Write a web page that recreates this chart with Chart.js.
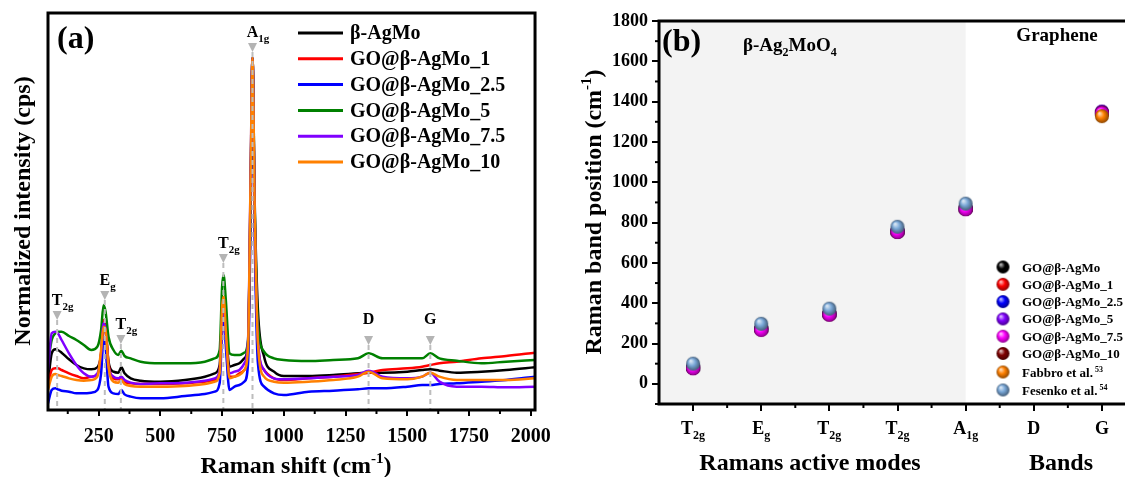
<!DOCTYPE html>
<html>
<head>
<meta charset="utf-8">
<script src="https://cdn.jsdelivr.net/npm/chart.js@4.4.0/dist/chart.umd.min.js"></script>
<style>
  html, body { margin: 0; padding: 0; background: #fff; overflow: hidden; }
  #wrap { position: relative; width: 1125px; height: 477px; overflow: hidden; }
  #boxA { position: absolute; left: 0; top: 0; }
  #boxB { position: absolute; left: 560px; top: 0; }
</style>
</head>
<body>
<div id="wrap">
  <div id="boxA"><canvas id="ramanChart" width="560" height="477"></canvas></div>
  <div id="boxB"><canvas id="bandChart" width="600" height="477"></canvas></div>
</div>
<script>
// ---------- panel (a): Raman spectra ----------
const ramanShift = [45, 60, 75, 85, 100, 130, 160, 190, 220, 245, 260, 270, 278, 290, 310, 330, 342, 355, 380, 420, 500, 600, 680, 720, 740, 750, 756, 765, 780, 800, 820, 840, 855, 865, 873, 882, 895, 920, 960, 1000, 1100, 1200, 1300, 1343, 1400, 1500, 1560, 1593, 1630, 1700, 1800, 1900, 2017];
const agmo = [80, 170, 182, 180, 172, 152, 135, 125, 122, 128, 165, 250, 240, 145, 115, 112, 128, 110, 95, 88, 85, 90, 100, 110, 135, 285, 315, 240, 130, 135, 140, 155, 200, 650, 1056, 620, 300, 160, 115, 102, 102, 105, 110, 112, 112, 115, 120, 122, 118, 112, 115, 120, 128];
const go1 = [70, 120, 125, 125, 120, 110, 102, 95, 100, 105, 170, 270, 250, 140, 95, 92, 100, 85, 80, 78, 78, 80, 85, 90, 110, 280, 310, 220, 100, 100, 110, 120, 180, 600, 1056, 560, 200, 120, 95, 90, 95, 100, 108, 112, 120, 125, 130, 135, 140, 145, 155, 162, 172];
const go25 = [20, 60, 65, 62, 58, 55, 50, 50, 52, 60, 110, 210, 190, 70, 50, 48, 60, 47, 40, 35, 35, 42, 48, 55, 80, 240, 280, 190, 60, 70, 75, 85, 140, 560, 1056, 520, 140, 70, 50, 45, 55, 58, 62, 65, 65, 70, 75, 75, 78, 80, 85, 90, 100];
const go5 = [140, 210, 230, 235, 235, 222, 210, 195, 180, 190, 240, 315, 295, 220, 180, 165, 178, 162, 155, 145, 140, 140, 145, 155, 180, 370, 405, 330, 170, 165, 165, 172, 210, 620, 1056, 600, 260, 175, 155, 150, 147, 150, 155, 170, 155, 155, 155, 170, 155, 148, 140, 145, 150];
const go75 = [120, 230, 235, 230, 210, 170, 135, 110, 100, 110, 170, 260, 240, 130, 100, 95, 100, 90, 82, 78, 80, 82, 88, 95, 120, 280, 310, 220, 110, 115, 120, 140, 210, 680, 1056, 580, 210, 120, 95, 92, 95, 100, 105, 118, 100, 95, 100, 112, 85, 70, 70, 68, 70];
const go10 = [60, 100, 108, 105, 102, 95, 90, 88, 90, 100, 180, 250, 240, 130, 85, 82, 90, 78, 72, 70, 70, 72, 78, 85, 110, 310, 340, 240, 95, 100, 105, 120, 190, 680, 1056, 600, 200, 100, 85, 82, 85, 90, 100, 115, 95, 92, 100, 112, 100, 90, 90, 90, 95];
const spectraNames = ['β-AgMo', 'GO@β-AgMo_1', 'GO@β-AgMo_2.5', 'GO@β-AgMo_5', 'GO@β-AgMo_7.5', 'GO@β-AgMo_10'];
const spectraColors = ['#000000', '#ff0000', '#0000ff', '#008000', '#8000ff', '#ff8000'];
const xTicksA = [250, 500, 750, 1000, 1250, 1500, 1750, 2000];

// band markers drawn on the spectra
const modeShift = [82, 275, 340, 755, 873, 1343, 1593];
const modeMain = ['T', 'E', 'T', 'T', 'A', 'D', 'G'];
const modeSub = ['2g', 'g', '2g', '2g', '1g', '', ''];
const modeTip = [270, 330, 198, 441, 1074, 195, 195];

// ---------- panel (b): band positions ----------
const bandKeys = ['T2g', 'Eg', 'T2g', 'T2g', 'A1g', 'D', 'G'];
const bandMain = ['T', 'E', 'T', 'T', 'A', 'D', 'G'];
const bandSub = ['2g', 'g', '2g', '2g', '1g', '', ''];
const yTicksB = [0, 200, 400, 600, 800, 1000, 1200, 1400, 1600, 1800];
const bAgMo = [80, 272, 346, 756, 869, null, 1345];
const bGO1 = [80, 272, 346, 756, 869, null, 1345];
const bGO25 = [80, 272, 346, 756, 869, null, 1345];
const bGO5 = [81, 273, 347, 757, 870, null, 1351];
const bGO75 = [77, 267, 343, 753, 866, null, 1343];
const bGO10 = [79, 270, 345, 755, 868, null, 1345];
const bFabbro = [null, null, null, null, null, null, 1328];
const bFesenko = [100, 298, 373, 779, 894, null, null];
const bandNames = ['GO@β-AgMo', 'GO@β-AgMo_1', 'GO@β-AgMo_2.5', 'GO@β-AgMo_5', 'GO@β-AgMo_7.5', 'GO@β-AgMo_10', 'Fabbro et al.', 'Fesenko et al.'];
const bandRefs = ['', '', '', '', '', '', '53', '54'];
const bandColors = ['#000000', '#ff0000', '#0000ff', '#8000ff', '#ff00ff', '#800000', '#ff8000', '#7aa8d8'];

const serif = "'Liberation Serif', 'Times New Roman', serif";
Chart.defaults.font.family = serif;
Chart.defaults.font.weight = 'bold';
Chart.defaults.color = '#000';

// draw text made of pieces (for sub/superscripts)
function richText(ctx, x, y, parts, align) {
  let total = 0;
  parts.forEach(p => {
    ctx.font = 'bold ' + p[1] + 'px ' + serif;
    p.w = ctx.measureText(p[0]).width;
    total += p.w;
  });
  let cx = align === 'center' ? x - total / 2 : (align === 'right' ? x - total : x);
  ctx.textAlign = 'left';
  ctx.textBaseline = 'alphabetic';
  ctx.fillStyle = '#000';
  parts.forEach(p => {
    ctx.font = 'bold ' + p[1] + 'px ' + serif;
    ctx.fillText(p[0], cx, y + (p[2] || 0));
    cx += p.w;
  });
}

function shade(hex, t) {
  const n = parseInt(hex.slice(1), 16);
  let r = n >> 16, g = (n >> 8) & 255, b = n & 255;
  const target = t > 0 ? 255 : 0, k = Math.abs(t);
  r = Math.round(r + (target - r) * k);
  g = Math.round(g + (target - g) * k);
  b = Math.round(b + (target - b) * k);
  return 'rgb(' + r + ',' + g + ',' + b + ')';
}

// shaded sphere used as point style
function ball(color, r) {
  const c = document.createElement('canvas');
  c.width = c.height = 2 * r + 2;
  const g = c.getContext('2d');
  const m = r + 1;
  const grad = g.createRadialGradient(m - r * 0.35, m - r * 0.4, r * 0.1, m, m, r);
  grad.addColorStop(0, shade(color, 0.7));
  grad.addColorStop(0.45, color);
  grad.addColorStop(1, shade(color, -0.45));
  g.fillStyle = grad;
  g.beginPath();
  g.arc(m, m, r, 0, Math.PI * 2);
  g.fill();
  return c;
}

// ================= chart (a) =================
const spectra = [agmo, go1, go25, go5, go75, go10];
const drawOrderA = [5, 4, 3, 2, 1, 0]; // orange on top

const panelA = {
  id: 'panelA',
  afterDatasetsDraw(chart) {
    const ctx = chart.ctx, a = chart.chartArea;
    const xs = chart.scales.x, ys = chart.scales.y;
    ctx.save();
    // band markers
    modeShift.forEach((v, i) => {
      const px = xs.getPixelForValue(v);
      const tip = ys.getPixelForValue(modeTip[i]);
      ctx.strokeStyle = '#bdbdbd';
      ctx.lineWidth = 2;
      ctx.setLineDash([5, 4]);
      ctx.beginPath();
      ctx.moveTo(px, tip);
      ctx.lineTo(px, a.bottom);
      ctx.stroke();
      ctx.setLineDash([]);
      ctx.fillStyle = '#b4b4b4';
      ctx.beginPath();
      ctx.moveTo(px - 4.5, tip - 9);
      ctx.lineTo(px + 4.5, tip - 9);
      ctx.lineTo(px, tip);
      ctx.closePath();
      ctx.fill();
      ctx.font = 'bold 16px ' + serif;
      const mw = ctx.measureText(modeMain[i]).width;
      const base = modeSub[i] ? tip - 15 : tip - 21;
      richText(ctx, px - mw / 2, base, [[modeMain[i], 16], [modeSub[i], 11, 5]], 'left');
    });
    ctx.restore();
  },
  afterDraw(chart) {
    const ctx = chart.ctx, a = chart.chartArea;
    const xs = chart.scales.x;
    ctx.save();
    // frame
    ctx.strokeStyle = '#000';
    ctx.lineWidth = 3;
    ctx.strokeRect(a.left, a.top, a.right - a.left, a.bottom - a.top);
    // minor ticks
    ctx.lineWidth = 2;
    for (let i = 0; i < xTicksA.length; i++) {
      const px = xs.getPixelForValue(xTicksA[i] - 125);
      if (px < a.left) continue;
      ctx.beginPath();
      ctx.moveTo(px, a.bottom);
      ctx.lineTo(px, a.bottom + 4);
      ctx.stroke();
    }
    // legend
    spectraNames.forEach((name, i) => {
      const y = 33 + i * 25.8;
      ctx.strokeStyle = spectraColors[i];
      ctx.lineWidth = 3;
      ctx.beginPath();
      ctx.moveTo(298, y);
      ctx.lineTo(343, y);
      ctx.stroke();
      ctx.fillStyle = '#000';
      ctx.font = 'bold 20px ' + serif;
      ctx.textAlign = 'left';
      ctx.textBaseline = 'middle';
      ctx.fillText(name, 350, y + 1);
    });
    // panel tag
    ctx.font = 'bold 32px ' + serif;
    ctx.textAlign = 'left';
    ctx.textBaseline = 'middle';
    ctx.fillText('(a)', 57, 40);
    // axis titles
    richText(ctx, 296, 473, [['Raman shift (cm', 24], ['-1', 15, -10], [')', 24]], 'center');
    ctx.translate(30, 211);
    ctx.rotate(-Math.PI / 2);
    richText(ctx, 0, 0, [['Normalized intensity (cps)', 24]], 'center');
    ctx.restore();
  }
};

new Chart(document.getElementById('ramanChart'), {
  type: 'line',
  data: {
    datasets: spectra.map((ys, i) => ({
      label: spectraNames[i],
      data: ramanShift.map((x, k) => ({ x: x, y: ys[k] })),
      borderColor: spectraColors[i],
      backgroundColor: spectraColors[i],
      borderWidth: 2.5,
      pointRadius: 0,
      cubicInterpolationMode: 'monotone',
      order: drawOrderA[i]
    }))
  },
  options: {
    responsive: false,
    animation: false,
    layout: { padding: { left: 48, top: 13, right: 19, bottom: 0 } },
    scales: {
      x: {
        type: 'linear',
        min: 45,
        max: 2017,
        afterBuildTicks: s => { s.ticks = xTicksA.map(v => ({ value: v })); },
        afterFit: s => { s.height = 67; },
        ticks: { font: { size: 20, weight: 'bold' }, color: '#000', padding: 9, maxRotation: 0, callback: v => String(v) },
        grid: { drawOnChartArea: false, drawTicks: true, tickLength: 6, lineWidth: 2, color: '#000' },
        border: { display: false }
      },
      y: { display: false, min: 0, max: 1191 }
    },
    plugins: { legend: { display: false }, tooltip: { enabled: false } }
  },
  plugins: [panelA]
});

// ================= chart (b) =================
const bandSeries = [bAgMo, bGO1, bGO25, bGO5, bGO75, bGO10, bFabbro, bFesenko];
const drawOrderB = [7, 6, 5, 4, 2, 3, 1, 0]; // Fesenko on top
const balls = bandColors.map(c => ball(c, 7));
const legendBalls = bandColors.map(c => ball(c, 6.5));
const legendRows = [267, 284.3, 301.6, 318.9, 336.2, 353.5, 372, 390];

const panelB = {
  id: 'panelB',
  beforeDatasetsDraw(chart) {
    const ctx = chart.ctx, a = chart.chartArea;
    const xs = chart.scales.x;
    ctx.save();
    ctx.fillStyle = '#f3f3f3';
    ctx.fillRect(a.left, a.top, xs.getPixelForValue(4) - a.left, a.bottom - a.top);
    ctx.restore();
  },
  afterDraw(chart) {
    const ctx = chart.ctx, a = chart.chartArea;
    const xs = chart.scales.x, ys = chart.scales.y;
    ctx.save();
    ctx.strokeStyle = '#000';
    ctx.lineWidth = 3;
    ctx.strokeRect(a.left, a.top, a.right - a.left, a.bottom - a.top);
    // minor ticks
    ctx.lineWidth = 2;
    for (let v = -100; v <= 1800; v += 200) {
      const py = ys.getPixelForValue(v);
      ctx.beginPath();
      ctx.moveTo(a.left, py);
      ctx.lineTo(a.left - 4, py);
      ctx.stroke();
    }
    for (let i = 0; i < bandKeys.length; i++) {
      const px = (xs.getPixelForValue(i) + xs.getPixelForValue(i + 1)) / 2;
      ctx.beginPath();
      ctx.moveTo(px, a.bottom);
      ctx.lineTo(px, a.bottom + 4);
      ctx.stroke();
    }
    // category labels with subscripts
    bandMain.forEach((m, i) => {
      const px = xs.getPixelForValue(i);
      richText(ctx, px, 434, [[m, 18], [bandSub[i], 12, 5]], 'center');
    });
    // legend
    bandNames.forEach((name, i) => {
      const y = legendRows[i];
      const img = legendBalls[i];
      ctx.drawImage(img, 443 - img.width / 2, y - img.height / 2);
      const parts = [[name, 13]];
      if (bandRefs[i]) parts.push([' ' + bandRefs[i], 8, -5]);
      richText(ctx, 462, y + 4.5, parts, 'left');
    });
    // texts
    ctx.font = 'bold 32px ' + serif;
    ctx.textAlign = 'left';
    ctx.textBaseline = 'middle';
    ctx.fillStyle = '#000';
    ctx.fillText('(b)', 102, 43);
    richText(ctx, 183, 51, [['β-Ag', 19], ['2', 12, 5], ['MoO', 19], ['4', 12, 5]], 'left');
    richText(ctx, 497, 41, [['Graphene', 19]], 'center');
    richText(ctx, 250, 470, [['Ramans active modes', 24]], 'center');
    richText(ctx, 501, 470, [['Bands', 24]], 'center');
    ctx.translate(41, 212);
    ctx.rotate(-Math.PI / 2);
    richText(ctx, 0, 0, [['Raman band position (cm', 24], ['-1', 15, -10], [')', 24]], 'center');
    ctx.restore();
  }
};

new Chart(document.getElementById('bandChart'), {
  type: 'line',
  data: {
    labels: bandKeys,
    datasets: bandSeries.map((vals, i) => ({
      label: bandNames[i],
      data: vals,
      showLine: false,
      pointStyle: balls[i],
      pointRadius: 7,
      borderColor: bandColors[i],
      backgroundColor: bandColors[i],
      order: drawOrderB[i]
    }))
  },
  options: {
    responsive: false,
    animation: false,
    layout: { padding: { left: 0, top: 21, right: 24, bottom: 0 } },
    scales: {
      x: {
        type: 'category',
        offset: true,
        afterFit: s => { s.height = 73; },
        ticks: { display: false },
        grid: { offset: false, drawOnChartArea: false, drawTicks: true, tickLength: 7, lineWidth: 2, color: '#000' },
        border: { display: false }
      },
      y: {
        min: -100,
        max: 1800,
        afterBuildTicks: s => { s.ticks = yTicksB.map(v => ({ value: v })); },
        afterFit: s => { s.width = 99; },
        ticks: { font: { size: 18, weight: 'bold' }, color: '#000', padding: 4, callback: v => String(v) },
        grid: { drawOnChartArea: false, drawTicks: true, tickLength: 7, lineWidth: 2, color: '#000' },
        border: { display: false }
      }
    },
    plugins: { legend: { display: false }, tooltip: { enabled: false } }
  },
  plugins: [panelB]
});
</script>
</body>
</html>
